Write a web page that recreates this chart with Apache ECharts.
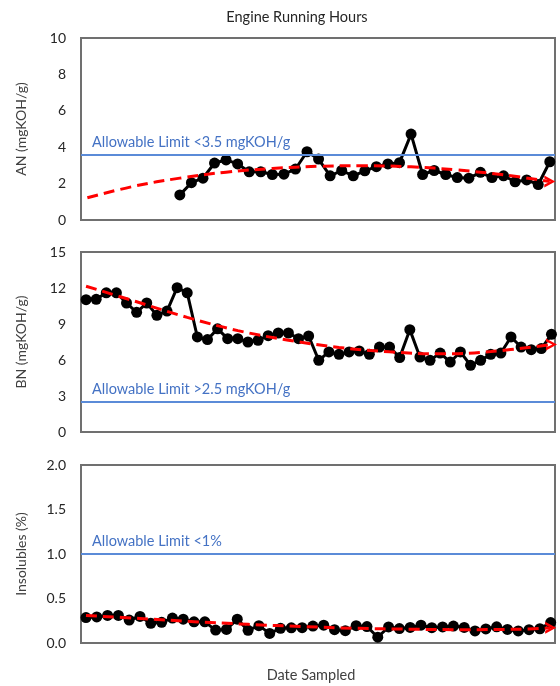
<!DOCTYPE html>
<html>
<head>
<meta charset="utf-8">
<script src="https://cdn.jsdelivr.net/npm/echarts@6/dist/echarts.min.js"></script>
<style>
html,body{margin:0;padding:0;background:#fff;}
#chart{width:560px;height:686px;}
</style>
</head>
<body>
<div id="chart"></div>
<script>
// ---- data (sample index along "Date Sampled") ----
const anValues = [null, null, null, null, null, null, null, null,
  1.38, 2.05, 2.3, 3.13, 3.3, 3.08, 2.65, 2.65, 2.5, 2.52, 2.8, 3.75, 3.35, 2.43, 2.72, 2.43,
  2.7, 2.93, 3.08, 3.15, 4.72, 2.5, 2.72, 2.5, 2.33, 2.3, 2.62, 2.33, 2.43, 2.1, 2.2, 1.95, 3.2];
const bnValues = [11.03, 11.06, 11.6, 11.6, 10.75, 9.97, 10.75, 9.72, 10.08, 12.03, 11.6, 7.92,
  7.7, 8.6, 7.78, 7.78, 7.5, 7.64, 8.03, 8.25, 8.25, 7.78, 8.0, 5.97, 6.67, 6.47, 6.67, 6.75,
  6.47, 7.08, 7.08, 6.2, 8.53, 6.25, 5.97, 6.58, 5.83, 6.67, 5.56, 5.97, 6.47, 6.58, 7.92, 7.08,
  6.86, 6.95, 8.14];
const insValues = [0.286, 0.293, 0.31, 0.31, 0.258, 0.298, 0.222, 0.232, 0.28, 0.268, 0.238,
  0.238, 0.145, 0.152, 0.268, 0.142, 0.195, 0.108, 0.165, 0.17, 0.172, 0.19, 0.2, 0.15, 0.138,
  0.195, 0.185, 0.065, 0.18, 0.162, 0.175, 0.2, 0.172, 0.18, 0.19, 0.175, 0.135, 0.158, 0.182,
  0.152, 0.135, 0.15, 0.16, 0.23];

// trendlines
const anTrendX = [0, 4, 8, 12, 16, 20, 24, 28, 32, 36, 40];
const anTrendY = [1.22, 1.85, 2.3, 2.63, 2.83, 2.95, 2.98, 2.92, 2.75, 2.48, 2.12];
const bnTrendX = [0, 5, 10, 15, 20, 25, 30, 35, 40, 46];
const bnTrendY = [12.15, 10.85, 9.55, 8.45, 7.65, 7.05, 6.68, 6.52, 6.7, 7.3];
const insTrendX = [0, 5, 10, 15, 20, 25, 30, 35, 40, 43];
const insTrendY = [0.31, 0.275, 0.24, 0.21, 0.185, 0.165, 0.155, 0.15, 0.155, 0.17];

// limits
const anLimit = 3.6, anLimitLabel = 'Allowable Limit <3.5 mgKOH/g';
const bnLimit = 2.5, bnLimitLabel = 'Allowable Limit >2.5 mgKOH/g';
const insLimit = 1.0, insLimitLabel = 'Allowable Limit <1%';

// axes
const anTicks = {min: 0, max: 10, interval: 2};
const bnTicks = {min: 0, max: 15, interval: 3};
const insTicks = {min: 0, max: 2, interval: 0.5};

const titleText = 'Engine Running Hours';
const xName = 'Date Sampled';
const yNames = ['AN (mgKOH/g)', 'BN (mgKOH/g)', 'Insolubles (%)'];

// ---- build ----
const FONT = 'Lato, "Open Sans", sans-serif';
const arrowPath = 'path://M0,0 L12,6 L0,12 L0,9 L7,6 L0,3 Z';
const grids = [
  {left: 81, right: 5, top: 38, height: 182},
  {left: 81, right: 5, top: 252, height: 180},
  {left: 81, right: 5, top: 465, height: 178}
].map(g => Object.assign(g, {show: true, borderColor: '#707070', borderWidth: 2, backgroundColor: 'transparent'}));

const xRanges = [[-0.55, 40.45], [-0.5, 46.35], [-0.46, 43.4]];
const xAxes = xRanges.map((r, i) => ({
  type: 'value', gridIndex: i, min: r[0], max: r[1],
  axisLine: {show: false}, axisTick: {show: false}, axisLabel: {show: false}, splitLine: {show: false}
}));
const tickSets = [anTicks, bnTicks, insTicks];
const yAxes = tickSets.map((t, i) => ({
  type: 'value', gridIndex: i, min: t.min, max: t.max, interval: t.interval,
  name: yNames[i], nameLocation: 'middle', nameGap: 53,
  nameTextStyle: {fontFamily: FONT, fontSize: 14, color: '#404040'},
  axisLine: {show: false}, axisTick: {show: false}, splitLine: {show: false},
  axisLabel: {fontFamily: FONT, fontSize: 14, color: '#262626', margin: 15,
    formatter: v => i === 2 ? v.toFixed(1) : String(v)}
}));

function dataSeries(values, idx, limit, label) {
  return {
    type: 'line', xAxisIndex: idx, yAxisIndex: idx, z: 3,
    data: values.map((v, i) => [i, v]),
    connectNulls: false,
    symbol: 'circle', symbolSize: 11,
    itemStyle: {color: '#000'},
    lineStyle: {color: '#000', width: 3},
    markLine: {
      silent: true, symbol: 'none', animation: false,
      data: [{yAxis: limit}],
      lineStyle: {color: '#5b8bd8', width: 2, type: 'solid'},
      label: {position: 'insideStartTop', formatter: label, color: '#4472c4',
        fontFamily: FONT, fontSize: 14.5, distance: [11, 5]}
    }
  };
}
function trendSeries(xs, ys, idx) {
  const last = xs.length - 1;
  return {
    type: 'line', xAxisIndex: idx, yAxisIndex: idx, z: 5,
    smooth: 0.4, symbol: 'none', showSymbol: true,
    data: xs.map((x, i) => i === last
      ? {value: [x, ys[i]], symbol: arrowPath, symbolSize: [11, 12], itemStyle: {color: '#ff0000'}}
      : [x, ys[i]]),
    lineStyle: {color: '#ff0000', width: 3, type: [11, 6]},
    itemStyle: {color: '#ff0000'}
  };
}

const option = {
  animation: false,
  title: [
    {text: titleText, left: 292, top: 5, textAlign: 'center',
      textStyle: {fontFamily: FONT, fontSize: 14.5, fontWeight: 'normal', color: '#262626'}},
    {text: xName, left: 306, top: 663, textAlign: 'center',
      textStyle: {fontFamily: FONT, fontSize: 14.5, fontWeight: 'normal', color: '#404040'}}
  ],
  grid: grids,
  xAxis: xAxes,
  yAxis: yAxes,
  series: [
    dataSeries(anValues, 0, anLimit, anLimitLabel),
    trendSeries(anTrendX, anTrendY, 0),
    dataSeries(bnValues, 1, bnLimit, bnLimitLabel),
    trendSeries(bnTrendX, bnTrendY, 1),
    dataSeries(insValues, 2, insLimit, insLimitLabel),
    trendSeries(insTrendX, insTrendY, 2)
  ]
};
const chart = echarts.init(document.getElementById('chart'), null, {renderer: 'canvas'});
chart.setOption(option);
</script>
</body>
</html>
